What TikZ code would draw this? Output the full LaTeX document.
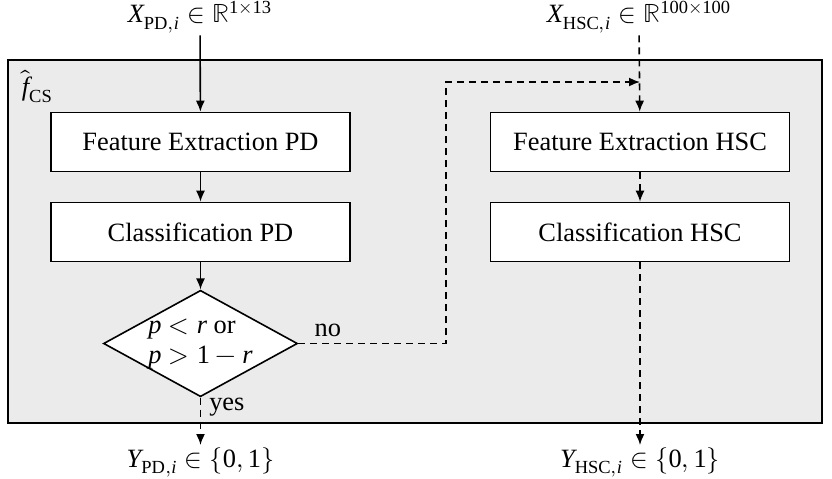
\documentclass[12pt,tikz,border=0pt]{standalone}
\usepackage{unicode-math}
\setmainfont{Liberation Serif}
\setmathfont{Latin Modern Math}
\setmathfont[range=it/{latin,Latin}]{Liberation Serif Italic}
\setmathfont[range=up/num]{Liberation Serif}
\usetikzlibrary{shapes.geometric,arrows.meta}
\definecolor{blockgray}{RGB}{235,235,235}
\tikzset{
  blockbox/.style={draw,fill=white,line width=0.8pt,minimum width=149.5pt,minimum height=29.5pt,inner sep=0pt},
  decide/.style={diamond,draw,fill=white,line width=0.8pt,minimum width=97pt,minimum height=51.5pt,inner sep=-6pt,align=left},
  flow/.style={line width=0.8pt,-{Latex[length=5.5pt,width=4.5pt]}},
  dashflow/.style={flow,dash pattern=on 3.5pt off 2.5pt},
}
\begin{document}
\begin{tikzpicture}[x=0.5pt,y=0.5pt,yscale=-1,xscale=1,font=\fontsize{13.2}{15}\selectfont]
\useasboundingbox (0,0) rectangle (832,478);

%Shape: Rectangle (surrounding block)
\draw [line width=1.2pt,fill=blockgray] (8,60) rectangle (822,423) ;
% Text Node
\node (fcs) [anchor=north west,inner sep=0.75pt] at (20,68) {$\hat{f}_{\mathrm{CS}}$};

% Inputs
\node (xpd) [inner sep=1pt] at (200,17) {$X_{\mathrm{PD},i}\in\mathbb{R}^{1\times 13}$};
\node (xhsc) [inner sep=1pt] at (639,17) {$X_{\mathrm{HSC},i}\in\mathbb{R}^{100\times 100}$};

% PD branch
\node (fepd) [blockbox] at (200.5,142) {Feature Extraction PD};
\node (clpd) [blockbox] at (200.5,232) {Classification PD};
\node (dec) [decide] at (200.5,343.5) {$p<r$ or\\$p>1-r$};

% HSC branch
\node (fehsc) [blockbox] at (640,142) {Feature Extraction HSC};
\node (clhsc) [blockbox] at (640,232) {Classification HSC};

% Outputs
\node (ypd) [anchor=north,inner sep=1pt] at (200.5,445) {$Y_{\mathrm{PD},i}\in\{0,1\}$};
\node (yhsc) [anchor=north,inner sep=1pt] at (640,445) {$Y_{\mathrm{HSC},i}\in\{0,1\}$};

\coordinate (join) at (640,82);

% Connectors
\draw [flow] (xpd) -- (fepd);
\draw [flow] (fepd) -- (clpd);
\draw [flow] (clpd) -- (dec);
\draw [dashflow] (dec.south) -- node [pos=0.2,anchor=west,inner sep=4pt] {yes} (ypd);
\draw [dashflow] (dec.east) -- node [pos=0.2,anchor=south,inner sep=3pt] {no} (446,343.5) |- (join);
\draw [dashflow] (xhsc) -- (fehsc);
\draw [dashflow] (fehsc) -- (clhsc);
\draw [dashflow] (clhsc) -- (yhsc);

\end{tikzpicture}
\end{document}
